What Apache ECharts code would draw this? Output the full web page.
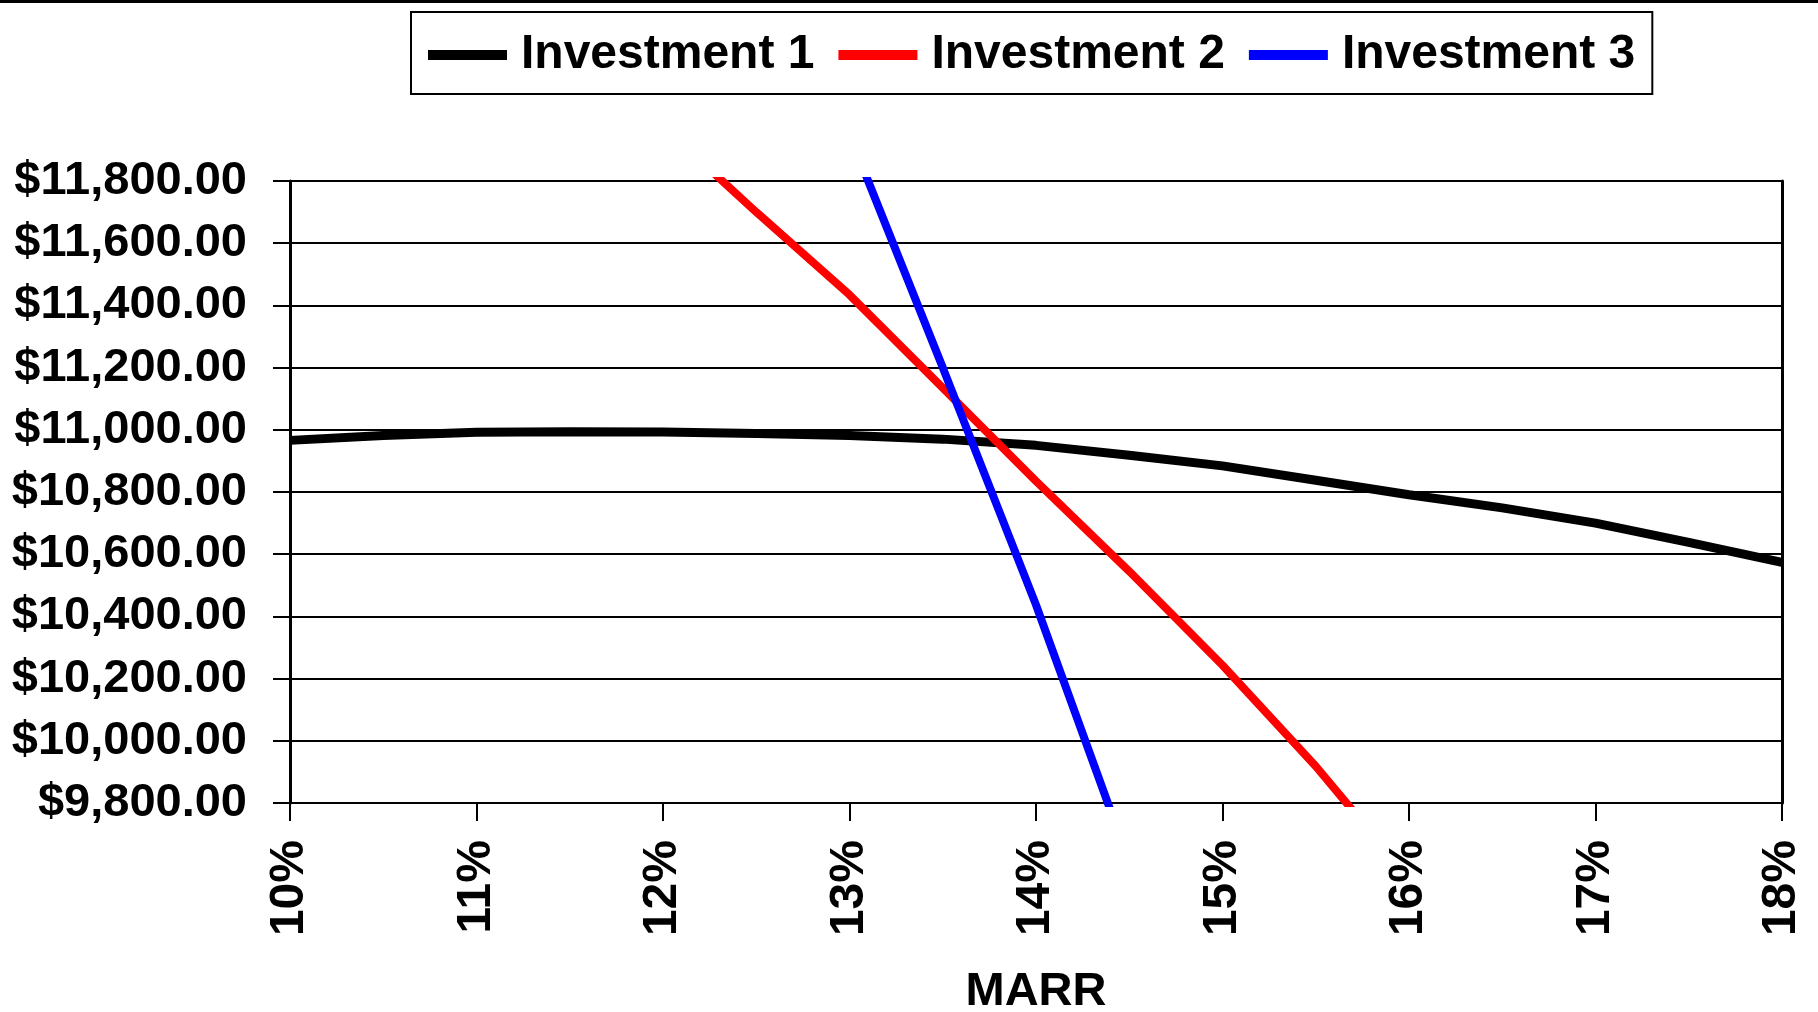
<!DOCTYPE html>
<html>
<head>
<meta charset="utf-8">
<style>
  html, body { margin: 0; padding: 0; background: #ffffff; }
  #chart { width: 1818px; height: 1012px; }
</style>
<script src="https://cdn.jsdelivr.net/npm/echarts@6/dist/echarts.min.js"></script>
</head>
<body>
<div id="chart"></div>
<script>
// ---- Data ----
const seriesNames = ['Investment 1', 'Investment 2', 'Investment 3'];

const marr1 = [10, 10.5, 11, 11.5, 12, 12.5, 13, 13.5, 14, 14.5, 15, 15.5, 16, 16.5, 17, 17.5, 18];
const inv1  = [10966, 10982, 10992, 10994, 10993, 10988, 10982, 10970, 10950, 10918, 10884, 10838, 10791, 10749, 10700, 10638, 10574];

const marr2 = [12, 12.5, 13, 13.5, 14, 14.5, 15, 15.5, 16];
const inv2  = [11975, 11700, 11434, 11135, 10835, 10545, 10243, 9918, 9560];

const marr3 = [13, 13.5, 14, 14.5];
const inv3  = [11950, 11200, 10437, 9610];

const xTicks = [10, 11, 12, 13, 14, 15, 16, 17, 18];
const yMin = 9800, yMax = 11800, yStep = 200;

const colors = ['#000000', '#ff0000', '#0000ff'];

function pairs(xs, ys) { return xs.map((x, i) => [x, ys[i]]); }
function money(v) {
  return '$' + Number(v).toLocaleString('en-US', { minimumFractionDigits: 2, maximumFractionDigits: 2 });
}

const FONT = "'Liberation Sans', Arial, sans-serif";

const chart = echarts.init(document.getElementById('chart'), null, { renderer: 'canvas' });

const option = {
  backgroundColor: '#ffffff',
  animation: false,
  color: colors,
  graphic: [
    { type: 'rect', left: 0, top: 0, shape: { width: 1818, height: 3 }, style: { fill: '#000000' }, silent: true }
  ],
  legend: {
    left: 411,
    top: 12,
    orient: 'horizontal',
    icon: 'rect',
    itemWidth: 79,
    itemHeight: 10,
    itemGap: 24,
    padding: [19, 17, 15, 17],
    borderColor: '#000000',
    borderWidth: 2,
    borderRadius: 0,
    backgroundColor: '#ffffff',
    textStyle: { fontFamily: FONT, fontWeight: 'bold', fontSize: 48, color: '#000000', padding: [0, 0, 0, 9] },
    data: seriesNames
  },
  grid: { left: 290, right: 36, top: 181, bottom: 209, containLabel: false, outerBoundsMode: 'none' },
  xAxis: {
    type: 'value',
    min: xTicks[0],
    max: xTicks[xTicks.length - 1],
    interval: 1,
    name: 'MARR',
    nameLocation: 'middle',
    nameGap: 166,
    nameTextStyle: { fontFamily: FONT, fontWeight: 'bold', fontSize: 47, color: '#000000' },
    axisLine: { show: true, onZero: false, lineStyle: { color: '#000000', width: 2 } },
    axisTick: { show: true, length: 18, lineStyle: { color: '#000000', width: 2 } },
    splitLine: { show: false },
    axisLabel: {
      rotate: 90,
      margin: 37,
      fontFamily: FONT, fontWeight: 'bold', fontSize: 48, color: '#000000',
      formatter: v => v + '%'
    }
  },
  yAxis: [
    {
      type: 'value',
      min: yMin,
      max: yMax,
      interval: yStep,
      axisLine: { show: true, lineStyle: { color: '#000000', width: 3 } },
      axisTick: { show: true, length: 17, lineStyle: { color: '#000000', width: 2 } },
      splitLine: { show: true, lineStyle: { color: '#000000', width: 2 } },
      axisLabel: {
        margin: 43,
        fontFamily: FONT, fontWeight: 'bold', fontSize: 47, color: '#000000',
        formatter: v => money(v)
      }
    },
    {
      type: 'value',
      position: 'right',
      min: yMin,
      max: yMax,
      interval: yStep,
      axisLine: { show: true, lineStyle: { color: '#000000', width: 3 } },
      axisTick: { show: false },
      splitLine: { show: false },
      axisLabel: { show: false }
    }
  ],
  series: [
    {
      name: seriesNames[0], type: 'line', data: pairs(marr1, inv1),
      showSymbol: false, symbol: 'none', clip: true, z: 3,
      lineStyle: { color: colors[0], width: 9 }
    },
    {
      name: seriesNames[1], type: 'line', data: pairs(marr2, inv2),
      showSymbol: false, symbol: 'none', clip: true, z: 4,
      lineStyle: { color: colors[1], width: 8 }
    },
    {
      name: seriesNames[2], type: 'line', data: pairs(marr3, inv3),
      showSymbol: false, symbol: 'none', clip: true, z: 5,
      lineStyle: { color: colors[2], width: 8 }
    }
  ]
};

chart.setOption(option);
</script>
</body>
</html>
